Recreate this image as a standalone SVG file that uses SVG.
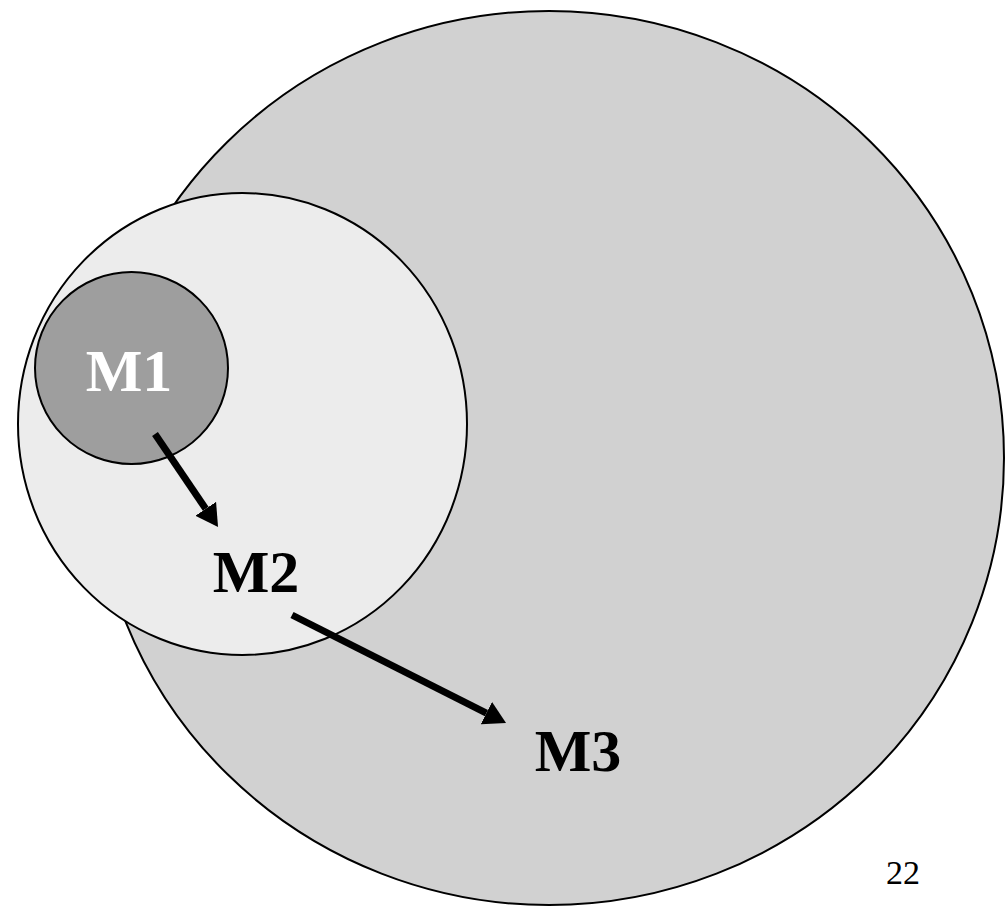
<svg xmlns="http://www.w3.org/2000/svg" width="1006" height="906" viewBox="0 0 1006 906">
<style>
.ring{stroke:#000;stroke-width:2}
.lbl{font-family:"Liberation Serif","Times New Roman",serif;font-weight:bold;font-size:60px;text-anchor:middle}
.arr{stroke:#000;stroke-width:7;fill:none}
</style>
<defs>
<marker id="head" markerUnits="userSpaceOnUse" markerWidth="24" markerHeight="26" refX="0" refY="12.5" orient="auto">
<path d="M0,0 L22,12.5 L0,25 z" fill="#000"/>
</marker>
</defs>
<rect width="1006" height="906" fill="#fff"/>
<g id="M3">
<ellipse class="ring" cx="549" cy="458" rx="455" ry="447" fill="#d1d1d1"/>
</g>
<g id="M2">
<ellipse class="ring" cx="242.5" cy="424" rx="224.5" ry="231" fill="#ececec"/>
</g>
<g id="M1">
<ellipse class="ring" cx="131.5" cy="368" rx="96.5" ry="96" fill="#9e9e9e"/>
<text class="lbl" x="129" y="391" fill="#fff">M1</text>
</g>
<g id="M2-label">
<text class="lbl" x="256" y="592" fill="#000">M2</text>
</g>
<g id="M3-label">
<text class="lbl" x="578" y="771" fill="#000">M3</text>
</g>
<g id="connectors">
<line class="arr" x1="155" y1="434" x2="205.7" y2="508.8" marker-end="url(#head)"/>
<line class="arr" x1="292" y1="615" x2="486.4" y2="713.1" marker-end="url(#head)"/>
</g>
<text x="903" y="884" font-family="'Liberation Serif','Times New Roman',serif" font-size="34" text-anchor="middle" fill="#000">22</text>
</svg>
